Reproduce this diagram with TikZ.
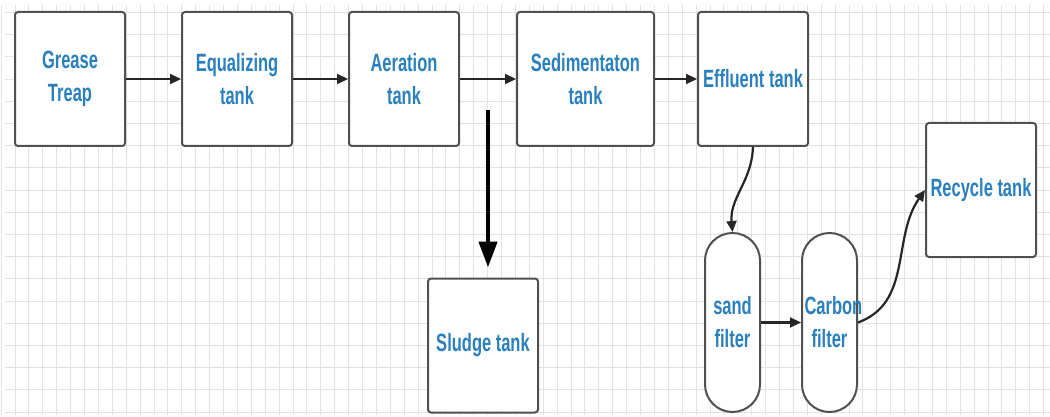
\documentclass[tikz,border=0pt]{standalone}
\usepackage{fontspec}
\setmainfont{Liberation Sans}[FakeStretch=0.66]
\usetikzlibrary{arrows,arrows.meta,positioning,calc}
\definecolor{labelblue}{RGB}{42,128,188}
\definecolor{edgegray}{RGB}{80,80,80}
\definecolor{gridgray}{RGB}{226,226,226}
\tikzset{
	tank/.style={
		rectangle,
        rounded corners=3pt,
        draw=edgegray,
		line width=2pt,
		fill=white,
		minimum height=134pt,
		minimum width=110pt,
		align=center,
		text=labelblue,
		font=\bfseries\fontsize{25}{33}\selectfont,
	},
	filter/.style={
		tank,
		rounded corners=27.5pt,
		minimum width=55pt,
		minimum height=179pt,
		inner sep=0pt,
		text width=50pt,
	},
    link/.style={
        -{Triangle[length=11pt,width=10pt]},
        line width=2.2pt,
        draw=black!85,
    },
    drain/.style={
        -{Triangle[length=26pt,width=18pt]},
        line width=4.5pt,
        shorten >=10pt,
    },
    gridline/.style={
        draw=gridgray,
        line width=0.8pt,
    }
}
\begin{document}
\begin{tikzpicture}[x=1pt,y=1pt]
\useasboundingbox (0,0) rectangle (1050,-417);

% background grid
\foreach \gx in {0,...,75}
  \draw[gridline] (1+\gx*13.9,-5) -- (1+\gx*13.9,-415);
\foreach \gy in {0,...,18}
  \draw[gridline] (5,-12.4-\gy*22.2) -- (1050,-12.4-\gy*22.2);

\node[tank] (grease) at (70,-79) {Grease\\Treap};
\node[tank] (equal) [right=55pt of grease] {Equalizing\\tank};
\node[tank] (aeration) [right=55pt of equal] {Aeration\\tank};
\node[tank,minimum width=137pt] (sediment) [right=56pt of aeration] {Sedimentaton\\tank};
\node[tank] (effluent) [right=42pt of sediment] {Effluent tank};
\node[tank] (sludge) at (483,-345.5) {Sludge tank};
\node[tank] (recycle) at (981,-190) {Recycle tank};
\node[filter] (sand) at (732.5,-322.5) {sand\\filter};
\node[filter] (carbon) [right=40pt of sand] {Carbon\\filter};

\draw[link] (grease) -- (equal);
\draw[link] (equal) -- (aeration);
\draw[link] (aeration) -- (sediment);
\draw[link] (sediment) -- (effluent);

\draw[link] (effluent.south) to[out=-92,in=95] (sand.north);
\draw[link] (sand) -- (carbon);
\draw[link] (carbon.east) to[out=20,in=235] (recycle.west);

% sludge line
\coordinate (drain) at ($(aeration.east)!0.5!(sediment.west)+(0,-31)$);
\draw[drain] (drain) -- (drain |- sludge.north);

\end{tikzpicture}
\end{document}
